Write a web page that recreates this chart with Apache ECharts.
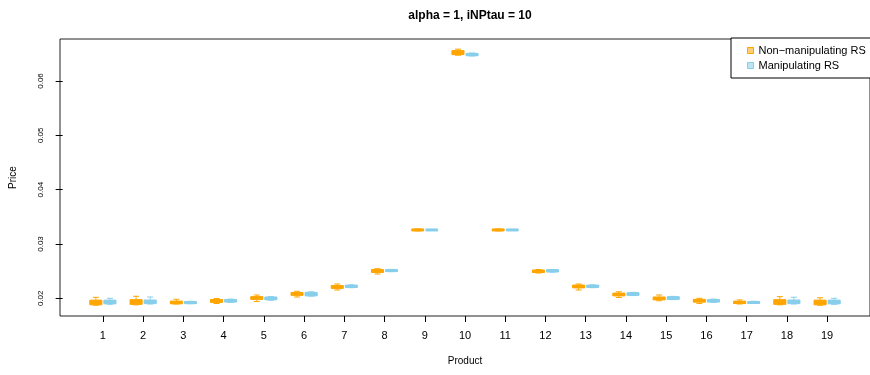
<!DOCTYPE html>
<html>
<head>
<meta charset="utf-8">
<script src="https://cdn.jsdelivr.net/npm/echarts@6/dist/echarts.min.js"></script>
<style>
  html, body { margin: 0; padding: 0; background: #fff; }
  #chart { width: 870px; height: 375px; }
</style>
</head>
<body>
<div id="chart"></div>
<script>
// Product numbers along the x axis
const products = [1, 2, 3, 4, 5, 6, 7, 8, 9, 10, 11, 12, 13, 14, 15, 16, 17, 18, 19];

// Price boxplot summaries per product: [lower whisker, Q1, median, Q3, upper whisker]
const nonManipulating = [
  [0.01872, 0.01880, 0.01922, 0.01966, 0.02018],
  [0.01880, 0.01888, 0.01930, 0.01975, 0.02037],
  [0.01895, 0.01900, 0.01920, 0.01948, 0.01982],
  [0.01904, 0.01925, 0.01952, 0.01978, 0.01995],
  [0.01940, 0.01980, 0.02003, 0.02030, 0.02060],
  [0.02024, 0.02055, 0.02080, 0.02105, 0.02129],
  [0.02153, 0.02182, 0.02210, 0.02234, 0.02263],
  [0.02447, 0.02477, 0.02502, 0.02528, 0.02545],
  [0.03240, 0.03248, 0.03258, 0.03268, 0.03276],
  [0.06475, 0.06485, 0.06522, 0.06560, 0.06586],
  [0.03240, 0.03248, 0.03258, 0.03268, 0.03276],
  [0.02465, 0.02475, 0.02497, 0.02519, 0.02530],
  [0.02153, 0.02192, 0.02218, 0.02243, 0.02263],
  [0.02015, 0.02044, 0.02070, 0.02096, 0.02120],
  [0.01955, 0.01971, 0.02000, 0.02022, 0.02061],
  [0.01905, 0.01930, 0.01955, 0.01980, 0.02000],
  [0.01895, 0.01905, 0.01925, 0.01945, 0.01970],
  [0.01880, 0.01888, 0.01930, 0.01975, 0.02030],
  [0.01872, 0.01880, 0.01922, 0.01966, 0.02010]
];
const manipulating = [
  [0.01890, 0.01898, 0.01932, 0.01966, 0.02000],
  [0.01895, 0.01902, 0.01935, 0.01968, 0.02024],
  [0.01900, 0.01905, 0.01920, 0.01938, 0.01945],
  [0.01925, 0.01932, 0.01955, 0.01975, 0.01985],
  [0.01965, 0.01972, 0.02000, 0.02022, 0.02030],
  [0.02040, 0.02045, 0.02080, 0.02110, 0.02118],
  [0.02195, 0.02202, 0.02220, 0.02240, 0.02248],
  [0.02490, 0.02495, 0.02510, 0.02525, 0.02532],
  [0.03248, 0.03252, 0.03258, 0.03264, 0.03268],
  [0.06460, 0.06465, 0.06488, 0.06508, 0.06515],
  [0.03248, 0.03252, 0.03258, 0.03264, 0.03268],
  [0.02482, 0.02487, 0.02506, 0.02525, 0.02530],
  [0.02195, 0.02202, 0.02220, 0.02240, 0.02248],
  [0.02050, 0.02055, 0.02080, 0.02102, 0.02110],
  [0.01975, 0.01980, 0.02005, 0.02028, 0.02035],
  [0.01925, 0.01932, 0.01955, 0.01975, 0.01985],
  [0.01905, 0.01908, 0.01922, 0.01938, 0.01945],
  [0.01895, 0.01902, 0.01935, 0.01968, 0.02020],
  [0.01890, 0.01898, 0.01932, 0.01966, 0.02000]
];

const yTicks = [0.02, 0.03, 0.04, 0.05, 0.06];
const seriesNames = ['Non\u2212manipulating RS', 'Manipulating RS'];
const seriesColors = ['#FFA500', '#87CEEB'];

const BOX_OFFSET = 0.175;   // shift of each group's box from the product tick
const BOX_WIDTH = 0.30;     // box width in product units
const CAP_WIDTH = 0.15;     // whisker cap width in product units

function makeRenderer(offset, color) {
  return function (params, api) {
    const x = api.value(0) + offset;
    const low = api.value(1), q1 = api.value(2), med = api.value(3),
          q3 = api.value(4), high = api.value(5);
    const pLow = api.coord([x, low]);
    const pQ1 = api.coord([x, q1]);
    const pMed = api.coord([x, med]);
    const pQ3 = api.coord([x, q3]);
    const pHigh = api.coord([x, high]);
    const halfBox = api.size([BOX_WIDTH, 0])[0] / 2;
    const halfCap = api.size([CAP_WIDTH, 0])[0] / 2;
    const cx = pMed[0];
    const lineStyle = { stroke: color, lineWidth: 1, fill: null };
    return {
      type: 'group',
      children: [
        { type: 'line', shape: { x1: cx, y1: pHigh[1], x2: cx, y2: pQ3[1] }, style: lineStyle },
        { type: 'line', shape: { x1: cx, y1: pQ1[1], x2: cx, y2: pLow[1] }, style: lineStyle },
        { type: 'line', shape: { x1: cx - halfCap, y1: pHigh[1], x2: cx + halfCap, y2: pHigh[1] }, style: lineStyle },
        { type: 'line', shape: { x1: cx - halfCap, y1: pLow[1], x2: cx + halfCap, y2: pLow[1] }, style: lineStyle },
        {
          type: 'rect',
          shape: { x: cx - halfBox, y: pQ3[1], width: halfBox * 2, height: pQ1[1] - pQ3[1] },
          style: { fill: color, stroke: color, lineWidth: 1 }
        },
        {
          type: 'line',
          shape: { x1: cx - halfBox, y1: pMed[1], x2: cx + halfBox, y2: pMed[1] },
          style: { stroke: color, lineWidth: 3 }
        }
      ]
    };
  };
}

function toData(stats) {
  return stats.map((s, i) => [products[i]].concat(s));
}

const chart = echarts.init(document.getElementById('chart'), null, { renderer: 'canvas' });

chart.setOption({
  animation: false,
  backgroundColor: '#fff',
  title: {
    text: 'alpha = 1, iNPtau = 10',
    left: 465,
    top: 5,
    textAlign: 'center',
    textStyle: { fontFamily: 'Liberation Sans, Arial, sans-serif', fontSize: 12, fontWeight: 'bold', color: '#000' }
  },
  legend: {
    orient: 'vertical',
    left: 731,
    top: 38,
    padding: [7, 30, 7, 16],
    itemWidth: 6,
    itemHeight: 6,
    itemGap: 4,
    backgroundColor: '#fff',
    borderColor: '#000',
    borderWidth: 1,
    borderRadius: 0,
    textStyle: { fontFamily: 'Liberation Sans, Arial, sans-serif', fontSize: 11, color: '#000', lineHeight: 11 },
    data: [
      { name: seriesNames[0], icon: 'rect', itemStyle: { color: 'rgba(255,165,0,0.55)', borderColor: '#FFA500', borderWidth: 1 } },
      { name: seriesNames[1], icon: 'rect', itemStyle: { color: 'rgba(135,206,235,0.55)', borderColor: '#87CEEB', borderWidth: 1 } }
    ]
  },
  grid: {
    left: 59,
    top: 39,
    width: 812,
    height: 277,
    show: true,
    borderColor: '#222',
    borderWidth: 1,
    backgroundColor: 'transparent'
  },
  xAxis: {
    type: 'value',
    min: -0.066,
    max: 20.066,
    name: 'Product',
    nameLocation: 'middle',
    nameGap: 40,
    nameTextStyle: { fontFamily: 'Liberation Sans, Arial, sans-serif', fontSize: 10, color: '#000' },
    axisLine: { show: false },
    splitLine: { show: false },
    axisTick: { show: true, length: 6, customValues: products, lineStyle: { color: '#000' } },
    axisLabel: {
      customValues: products,
      margin: 14,
      fontFamily: 'Liberation Sans, Arial, sans-serif',
      fontSize: 11,
      color: '#000'
    }
  },
  yAxis: {
    type: 'value',
    min: 0.01674,
    max: 0.06773,
    name: 'Price',
    nameLocation: 'middle',
    nameGap: 42,
    nameRotate: 90,
    nameTextStyle: { fontFamily: 'Liberation Sans, Arial, sans-serif', fontSize: 10, color: '#000' },
    axisLine: { show: false },
    splitLine: { show: false },
    axisTick: { show: true, length: 7, customValues: yTicks, lineStyle: { color: '#000' } },
    axisLabel: {
      customValues: yTicks,
      rotate: 90,
      margin: 15,
      fontFamily: 'Liberation Sans, Arial, sans-serif',
      fontSize: 8,
      color: '#000',
      formatter: v => v.toFixed(2)
    }
  },
  series: [
    {
      name: seriesNames[0],
      type: 'custom',
      renderItem: makeRenderer(-BOX_OFFSET, seriesColors[0]),
      itemStyle: { color: seriesColors[0] },
      encode: { x: 0, y: [1, 2, 3, 4, 5] },
      data: toData(nonManipulating),
      z: 3
    },
    {
      name: seriesNames[1],
      type: 'custom',
      renderItem: makeRenderer(BOX_OFFSET, seriesColors[1]),
      itemStyle: { color: seriesColors[1] },
      encode: { x: 0, y: [1, 2, 3, 4, 5] },
      data: toData(manipulating),
      z: 3
    }
  ]
});
</script>
</body>
</html>
